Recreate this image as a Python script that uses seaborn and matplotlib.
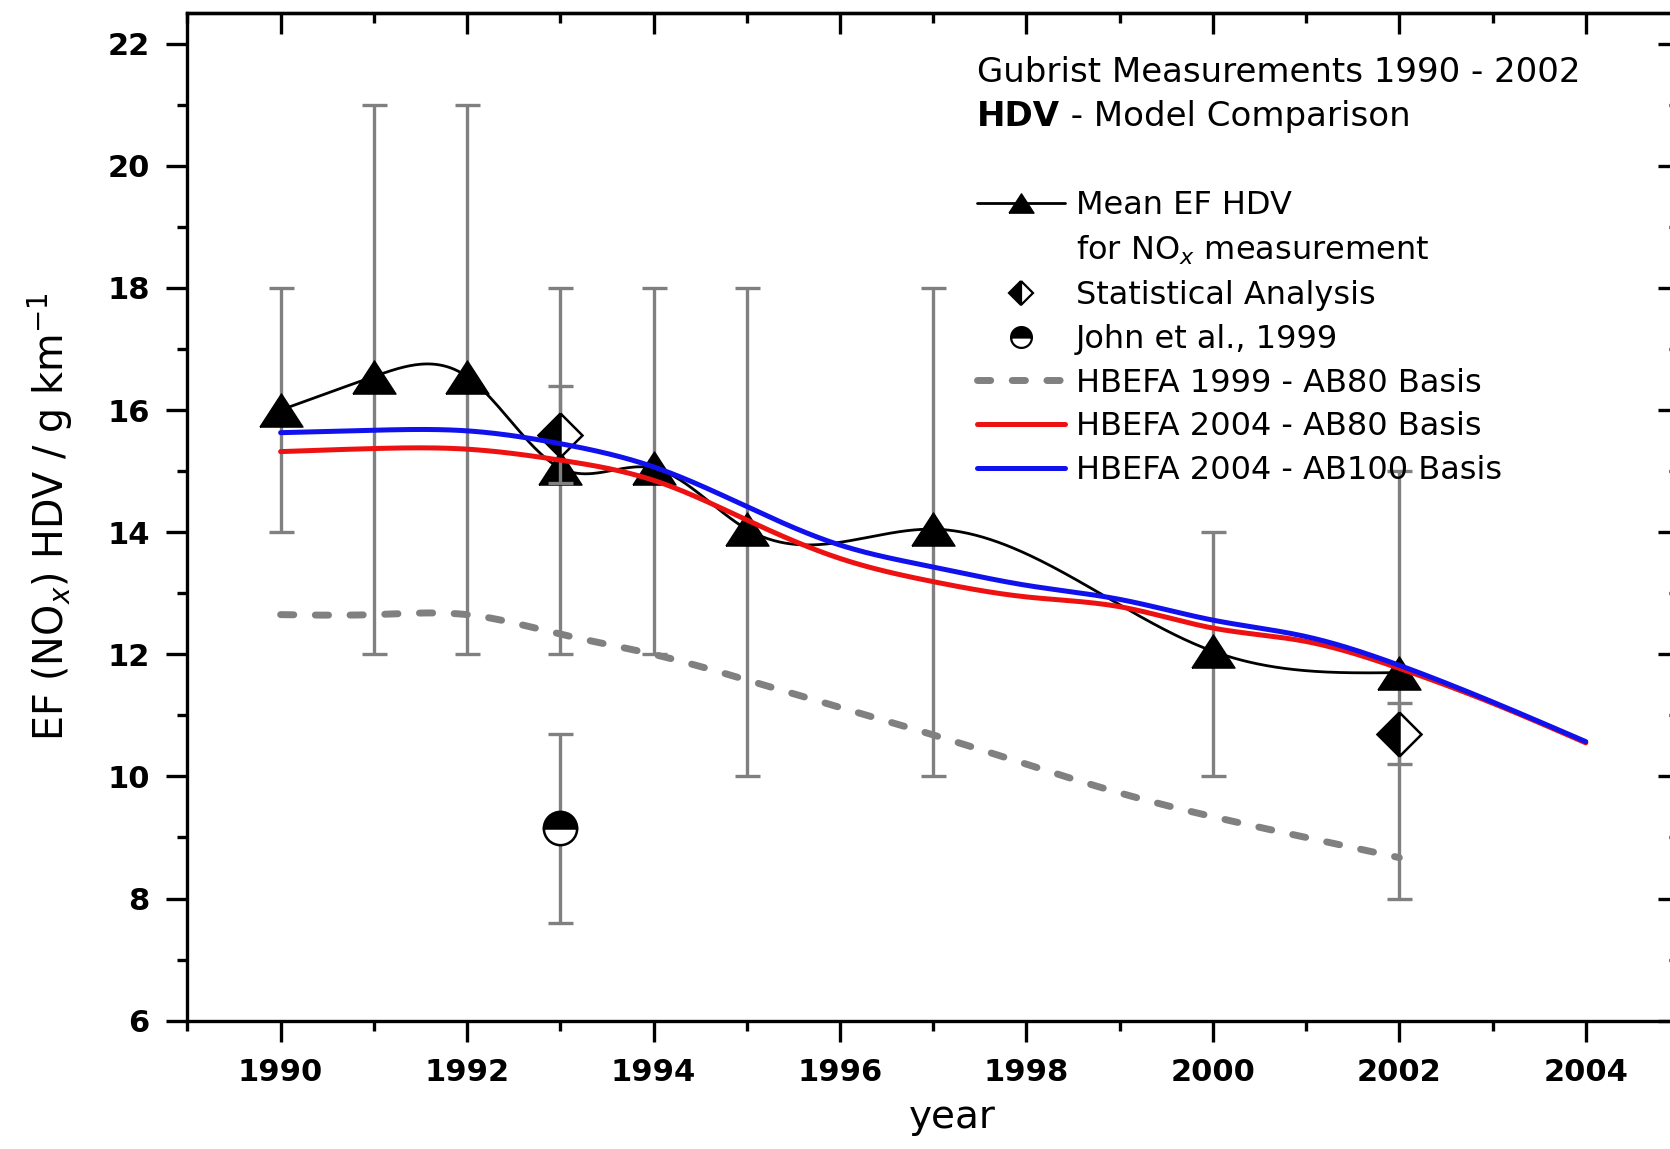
import numpy as np
import matplotlib
matplotlib.use("Agg")
import matplotlib.pyplot as plt
from matplotlib.lines import Line2D
from matplotlib.ticker import MultipleLocator
import seaborn as sns

# Mean HDV emission factors from the Gubrist tunnel measurements
mean_years = [1990, 1991, 1992, 1993, 1994, 1995, 1997, 2000, 2002]
mean_ef = [16.0, 16.55, 16.55, 15.05, 15.05, 14.05, 14.05, 12.05, 11.7]
mean_low = [14, 12, 12, 12, 12, 10, 10, 10, 8]
mean_high = [18, 21, 21, 18, 18, 18, 18, 14, 15]

# Statistical analysis
stat_years = [1993, 2002]
stat_ef = [15.6, 10.7]
stat_err = [0.8, 0.5]

# John et al., 1999
john_years = [1993]
john_ef = [9.15]
john_low = [7.6]
john_high = [10.7]

# HBEFA model curves
hbefa99_years = list(range(1990, 2003))
hbefa99_ab80 = [12.65, 12.65, 12.65, 12.33, 12.0, 11.58, 11.13, 10.68, 10.2, 9.73, 9.34, 9.0, 8.67]

hbefa04_years = list(range(1990, 2005))
hbefa04_ab80 = [15.32, 15.37, 15.36, 15.18, 14.85, 14.2, 13.57, 13.19, 12.94, 12.78,
                12.43, 12.21, 11.77, 11.2, 10.55]
hbefa04_ab100 = [15.63, 15.67, 15.66, 15.45, 15.07, 14.42, 13.79, 13.43, 13.13, 12.9,
                 12.56, 12.29, 11.82, 11.22, 10.57]

x_ticks = [1990, 1992, 1994, 1996, 1998, 2000, 2002, 2004]
y_ticks = [6, 8, 10, 12, 14, 16, 18, 20, 22]


def spline_curve(x, y, n=600):
    """Natural cubic spline through the given points (smooth line connection)."""
    x = np.asarray(x, float)
    y = np.asarray(y, float)
    h = np.diff(x)
    m = len(x)
    A = np.zeros((m, m))
    r = np.zeros(m)
    A[0, 0] = A[-1, -1] = 1.0
    for i in range(1, m - 1):
        A[i, i - 1] = h[i - 1]
        A[i, i] = 2 * (h[i - 1] + h[i])
        A[i, i + 1] = h[i]
        r[i] = 3 * ((y[i + 1] - y[i]) / h[i] - (y[i] - y[i - 1]) / h[i - 1])
    c = np.linalg.solve(A, r)
    b = np.diff(y) / h - h * (2 * c[:-1] + c[1:]) / 3
    d = np.diff(c) / (3 * h)
    xs = np.linspace(x[0], x[-1], n)
    idx = np.clip(np.searchsorted(x, xs, side="right") - 1, 0, m - 2)
    dx = xs - x[idx]
    ys = y[idx] + b[idx] * dx + c[idx] * dx ** 2 + d[idx] * dx ** 3
    return xs, ys


sns.set_style("white")
plt.rcParams["font.family"] = ["DejaVu Sans"]
plt.rcParams["mathtext.fontset"] = "dejavusans"
plt.rcParams["text.color"] = "black"
plt.rcParams["axes.labelcolor"] = "black"
plt.rcParams["xtick.color"] = "black"
plt.rcParams["ytick.color"] = "black"

GRAY = "#808080"
RED = "#ee1111"
BLUE = "#1111ee"

fig = plt.figure(figsize=(16.7, 11.49), dpi=100)
ax = fig.add_axes([0.1122, 0.1117, 0.8932, 0.8768])

# error bars of the measurements
mean_ef_a = np.array(mean_ef)
ax.errorbar(mean_years, mean_ef,
            yerr=[mean_ef_a - np.array(mean_low), np.array(mean_high) - mean_ef_a],
            fmt="none", ecolor=GRAY, elinewidth=2.4, capsize=9, capthick=2.4, zorder=1)

# HBEFA 1999 dashed curve
xs, ys = spline_curve(hbefa99_years, hbefa99_ab80)
sns.lineplot(x=xs, y=ys, ax=ax, color=GRAY, lw=5, sort=False, estimator=None,
             legend=False, zorder=2)
dash_line = ax.lines[-1]
dash_line.set_dashes((1.9, 3.1))
dash_line.set_dash_capstyle("round")

# measured mean, spline connection + triangles
tri = [(-1, -0.77), (1, -0.77), (0, 0.77), (-1, -0.77)]
xs, ys = spline_curve(mean_years, mean_ef)
sns.lineplot(x=xs, y=ys, ax=ax, color="black", lw=2, sort=False, estimator=None,
             legend=False, zorder=3)
ax.plot(mean_years, mean_ef, linestyle="none", marker=tri, ms=31,
        color="black", zorder=3)

# statistical analysis and John et al.
ax.errorbar(stat_years, stat_ef, yerr=stat_err, fmt="none", ecolor=GRAY,
            elinewidth=2.4, capsize=9, capthick=2.4, zorder=4)
ax.plot(stat_years, stat_ef, linestyle="none", marker="D", ms=22, fillstyle="left",
        markerfacecolor="black", markerfacecoloralt="white", markeredgecolor="black",
        markeredgewidth=1.8, zorder=4)
john_ef_a = np.array(john_ef)
ax.errorbar(john_years, john_ef,
            yerr=[john_ef_a - np.array(john_low), np.array(john_high) - john_ef_a],
            fmt="none", ecolor=GRAY, elinewidth=2.4, capsize=9, capthick=2.4, zorder=4)
ax.plot(john_years, john_ef, linestyle="none", marker="o", ms=24, fillstyle="top",
        markerfacecolor="black", markerfacecoloralt="white", markeredgecolor="black",
        markeredgewidth=1.8, zorder=4)

# HBEFA 2004 curves
xs, ys = spline_curve(hbefa04_years, hbefa04_ab80)
sns.lineplot(x=xs, y=ys, ax=ax, color=RED, lw=3.6, sort=False, estimator=None,
             legend=False, zorder=5)
xs, ys = spline_curve(hbefa04_years, hbefa04_ab100)
sns.lineplot(x=xs, y=ys, ax=ax, color=BLUE, lw=3.6, sort=False, estimator=None,
             legend=False, zorder=6)

# axes
ax.set_xlim(1989, 2005)
ax.set_ylim(6, 22.5)
ax.set_xticks(x_ticks)
ax.set_yticks(y_ticks)
ax.xaxis.set_minor_locator(MultipleLocator(1))
ax.yaxis.set_minor_locator(MultipleLocator(1))
for sp in ax.spines.values():
    sp.set_visible(True)
    sp.set_linewidth(2.4)
    sp.set_color("black")
ax.tick_params(which="both", bottom=True, left=True, top=False, right=False)
ax.tick_params(which="major", direction="out", length=15, width=2.4, labelsize=22,
               pad=12, colors="black")
ax.tick_params(which="minor", direction="out", length=7.5, width=2.4, colors="black")
for lab in ax.get_xticklabels() + ax.get_yticklabels():
    lab.set_fontweight("bold")

top = ax.secondary_xaxis("top")
top.set_xticks(x_ticks)
top.xaxis.set_minor_locator(MultipleLocator(1))
top.tick_params(which="both", top=True, labeltop=False)
top.tick_params(which="major", direction="in", length=15, width=2.4)
top.tick_params(which="minor", direction="in", length=7.5, width=2.4)
top.spines["top"].set_linewidth(2.4)

right = ax.secondary_yaxis("right")
right.set_yticks(y_ticks)
right.yaxis.set_minor_locator(MultipleLocator(1))
right.tick_params(which="both", right=True, labelright=False)
right.tick_params(which="major", direction="in", length=15, width=2.4)
right.tick_params(which="minor", direction="in", length=7.5, width=2.4)
right.spines["right"].set_linewidth(2.4)

ax.set_xlabel("year", fontsize=28)
ax.xaxis.label.set_va("baseline")
ax.xaxis.set_label_coords(0.513, -0.1065)
ax.set_ylabel("EF (NO$_x$) HDV / g km$^{-1}$", fontsize=28.5)
ax.yaxis.label.set_va("baseline")
ax.yaxis.set_label_coords(-0.0827, 0.5)

# annotation
ax.text(0.5294, 0.9318, "Gubrist Measurements 1990 - 2002", transform=ax.transAxes,
        fontsize=24.5, va="baseline", ha="left")
t_hdv = ax.text(0.5294, 0.8881, "HDV", transform=ax.transAxes, fontsize=24.5,
                fontweight="bold", va="baseline", ha="left")
ax.annotate(" - Model Comparison", xy=(1, 0), xycoords=t_hdv, fontsize=24.5,
            va="bottom", ha="left")

# legend
handles = [
    Line2D([], [], color="black", lw=2, marker=tri, ms=18),
    Line2D([], [], linestyle="none"),
    Line2D([], [], linestyle="none", marker="D", ms=12.5, fillstyle="left",
           markerfacecolor="black", markerfacecoloralt="white",
           markeredgecolor="black", markeredgewidth=1.6),
    Line2D([], [], linestyle="none", marker="o", ms=15, fillstyle="top",
           markerfacecolor="black", markerfacecoloralt="white",
           markeredgecolor="black", markeredgewidth=1.6),
    Line2D([], [], color=GRAY, lw=5, dashes=(1.9, 3.1), dash_capstyle="round"),
    Line2D([], [], color=RED, lw=3.6),
    Line2D([], [], color=BLUE, lw=3.6),
]
labels = [
    "Mean EF HDV",
    "for NO$_x$ measurement",
    "Statistical Analysis",
    "John et al., 1999",
    "HBEFA 1999 - AB80 Basis",
    "HBEFA 2004 - AB80 Basis",
    "HBEFA 2004 - AB100 Basis",
]
ax.legend(handles, labels, loc="upper left", bbox_to_anchor=(0.5294, 0.8245),
          bbox_transform=ax.transAxes, frameon=False, fontsize=23,
          handlelength=2.75, handletextpad=0.35, labelspacing=0.4,
          borderpad=0, borderaxespad=0, numpoints=1)

fig.savefig("out.png", dpi=100)
